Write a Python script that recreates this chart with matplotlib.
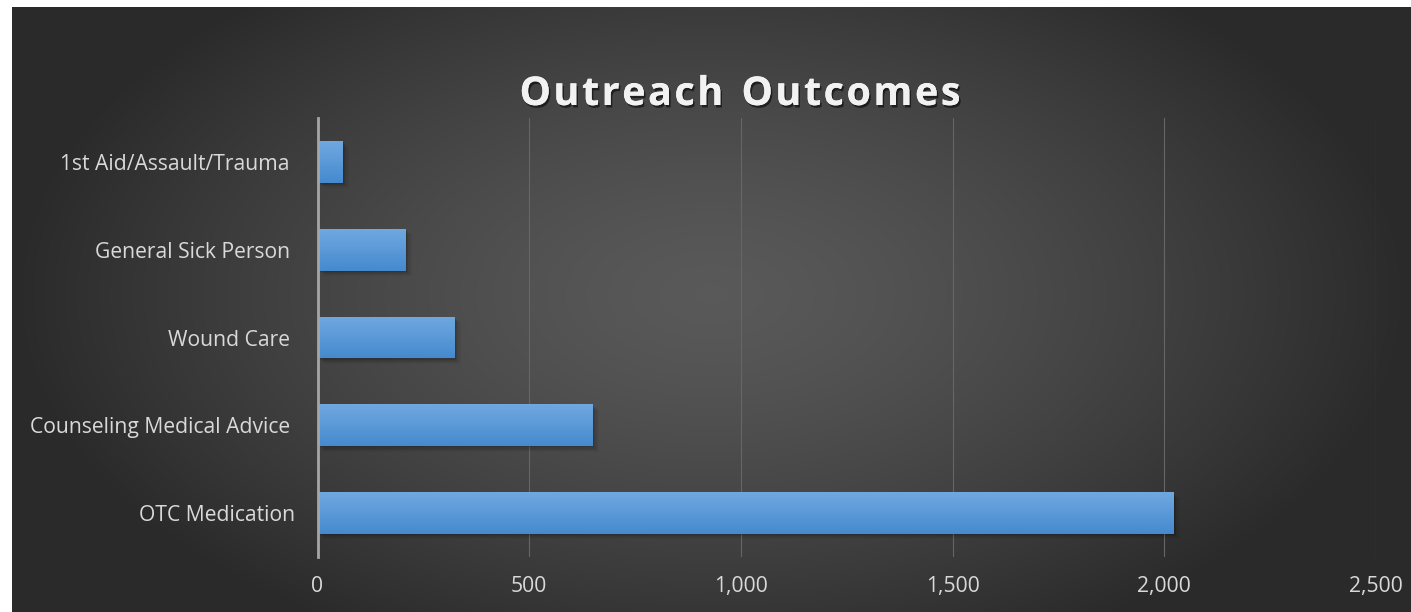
import numpy as np
import matplotlib
matplotlib.use("Agg")
import matplotlib.pyplot as plt
from matplotlib.patches import Rectangle
import matplotlib.patheffects as pe
from matplotlib.ticker import FuncFormatter
from matplotlib.font_manager import FontProperties

categories = ["OTC Medication", "Counseling Medical Advice ", "Wound Care ",
              "General Sick Person ", "1st Aid/Assault/Trauma "]
values = [2021, 649, 323, 207, 58]
xticks = [0, 500, 1000, 1500, 2000, 2500]
title = "Outreach Outcomes"

W, H = 1411, 612
fig = plt.figure(figsize=(W / 100, H / 100), dpi=100)
fig.patch.set_facecolor("white")

# background with radial gradient
bg = fig.add_axes([12 / W, 0, (W - 12) / W, (H - 7) / H])
bg.set_axis_off()
nx, ny = 600, 260
xx, yy = np.meshgrid(np.linspace(-1, 1, nx), np.linspace(-1, 1, ny))
r = np.sqrt(((xx - 0.0) / 1.0) ** 2 + ((yy + 0.05) / 1.3) ** 2)
r = np.clip(r, 0, 1)
c0, c1 = 0.35, 0.165
img = c0 + (c1 - c0) * r ** 1.4
bg.imshow(np.dstack([img, img, img]), aspect="auto", extent=[0, 1, 0, 1],
          interpolation="bilinear")
bg.set_xlim(0, 1); bg.set_ylim(0, 1)

left, right = 317.5, 1376
top, bottom = 118, 557
ax = fig.add_axes([left / W, 1 - bottom / H, (right - left) / W, (bottom - top) / H])
ax.set_facecolor("none")

y = np.arange(len(categories))
bh = 0.475
bars = ax.barh(y, values, height=bh, color="#5b9bd5", zorder=3)

grad = np.linspace(0, 1, 100).reshape(-1, 1)
top_c = np.array([0.44, 0.66, 0.88])
bot_c = np.array([0.27, 0.54, 0.81])
gimg = top_c[None, None, :] * (1 - grad[:, :, None]) + bot_c[None, None, :] * grad[:, :, None]
for b in bars:
    x0, y0 = b.get_x(), b.get_y()
    w, h = b.get_width(), b.get_height()
    for k, a in enumerate([0.09, 0.07, 0.05, 0.04, 0.03]):
        off = 0.015 + 0.012 * k
        sh = Rectangle((x0 + 4 + 3 * k, y0 - off), w, h, facecolor="black",
                       alpha=a, edgecolor="none", zorder=2)
        ax.add_patch(sh)
    im = ax.imshow(gimg, extent=[x0, x0 + w, y0, y0 + h], aspect="auto",
                   zorder=4, origin="upper")
    im.set_clip_path(b)
ax.set_ylim(-0.5, len(categories) - 0.5)
ax.set_xlim(0, 2500)
ax.set_xticks(xticks)
ax.xaxis.set_major_formatter(FuncFormatter(lambda v, p: f"{int(v):,}"))
ax.set_yticks(y)
ax.set_yticklabels(categories)
ax.grid(axis="x", color="#666666", linewidth=0.8, zorder=0)
ax.set_axisbelow(True)
for s in ["top", "right", "bottom"]:
    ax.spines[s].set_visible(False)
ax.spines["left"].set_color("#a6a6a6")
ax.spines["left"].set_linewidth(2)
ax.spines["left"].set_zorder(5)
ax.tick_params(axis="both", length=0, colors="#d9d9d9", labelsize=15.2)
ax.tick_params(axis="x", pad=14)
ax.tick_params(axis="y", pad=16)
for lab in ax.get_xticklabels() + ax.get_yticklabels():
    lab.set_family("Open Sans")

# title with letter spacing
fp = FontProperties(family="Open Sans", weight="bold", size=28.5)
spacing = 2.5  # px between letters
fig.canvas.draw()
renderer = fig.canvas.get_renderer()
widths = []
for ch in title:
    tt = fig.text(0, 0, ch if ch != " " else "n", fontproperties=fp)
    bb = tt.get_window_extent(renderer)
    widths.append(bb.width if ch != " " else bb.width * 0.5)
    tt.remove()
total = sum(widths) + spacing * (len(title) - 1)
xc = 740 - total / 2
for ch, wd in zip(title, widths):
    if ch != " ":
        t = fig.text(xc / W, 1 - 105 / H, ch, ha="left", va="baseline",
                     fontproperties=fp, color="#f2f2f2")
        t.set_path_effects([pe.withSimplePatchShadow(offset=(1.2, -1.8),
                            shadow_rgbFace="black", alpha=0.55), pe.Normal()])
    xc += wd + spacing

fig.savefig("out.png", dpi=100, facecolor="white")
